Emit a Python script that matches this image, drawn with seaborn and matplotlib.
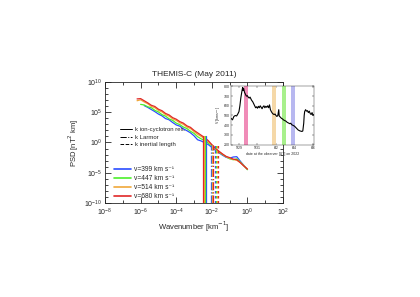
import numpy as np
import pandas as pd
import seaborn as sns
import matplotlib.pyplot as plt
from matplotlib.lines import Line2D
from matplotlib.ticker import LogLocator, NullFormatter, FixedLocator

sns.set_style("ticks")
plt.rcParams['font.family'] = ['Liberation Sans', 'DejaVu Sans']

# log10 wavenumber [km^-1]
log_k = [-6.2, -6.0, -5.8, -5.6, -5.4, -5.2, -5.0, -4.8, -4.6, -4.4, -4.2, -4.0,
         -3.8, -3.6, -3.4, -3.2, -3.0, -2.8, -2.6, -2.4, -2.2, -2.0, -1.8, -1.6,
         -1.4, -1.2, -1.0, -0.8, -0.6, -0.4, -0.2, 0.0]

# log10 PSD for each solar wind speed
psd_399 = [np.nan, np.nan, 6.1, 5.8, 5.45, 5.1, 4.7, 4.4, 3.95, 3.75, 3.3, 2.9,
           2.7, 2.25, 1.95, 1.6, 1.1, 0.45, 0.25, -0.05, -0.35, -0.8, -1.3, -1.7,
           -2.1, -2.45, -2.6, -2.4, -2.35, -3.1, -3.8, -4.45]
psd_447 = [np.nan, 6.3, 6.2, 5.9, 5.75, 5.3, 5.05, 4.6, 4.35, 3.9, 3.65, 3.2,
           2.95, 2.55, 2.3, 1.85, 1.5, 0.95, 0.6, 0.3, -0.1, -0.6, -1.15, -1.6,
           -2.0, -2.35, -2.7, -2.85, -2.7, -3.25, -3.85, -4.5]
psd_514 = [6.9, 7.05, 6.7, 6.4, 5.95, 5.75, 5.3, 5.05, 4.6, 4.35, 3.9, 3.65,
           3.25, 3.0, 2.55, 2.3, 1.8, 1.35, 1.0, 0.6, 0.1, -0.45, -1.05, -1.5,
           -1.95, -2.35, -2.6, -2.8, -2.95, -3.3, -3.85, -4.4]
psd_680 = [7.2, 7.25, 6.9, 6.55, 6.15, 5.95, 5.5, 5.25, 4.8, 4.55, 4.1, 3.85,
           3.45, 3.2, 2.75, 2.5, 2.0, 1.6, 1.2, 0.8, 0.3, -0.35, -0.95, -1.45,
           -1.9, -2.3, -2.5, -2.75, -2.85, -3.35, -3.9, -4.4]

speeds = ["v=399 km s⁻¹", "v=447 km s⁻¹", "v=514 km s⁻¹", "v=680 km s⁻¹"]
colors = ["#2a4dff", "#4cf02a", "#f0a83a", "#e02828"]

# characteristic scales, log10 k
k_cyclotron = [-2.33, -2.40, -2.44, -2.48]
k_larmor = [-2.05, -2.0, -1.97, -1.93]
k_inertial = [-1.8, -1.75, -1.7, -1.66]

# inset: solar wind speed, days since 5/28 00 UT
sw_day = [0.15, 0.3, 0.45, 0.6, 0.75, 0.9, 1.0, 1.1, 1.2, 1.3, 1.4, 1.45, 1.5, 1.6,
          1.7, 1.8, 1.9, 2.0, 2.1, 2.2, 2.35, 2.5, 2.6, 2.7, 2.8, 2.9, 3.0, 3.1, 3.2,
          3.3, 3.4, 3.5, 3.6, 3.7, 3.8, 3.9, 4.0, 4.1, 4.2, 4.3, 4.4, 4.5, 4.6, 4.7,
          4.8, 4.9, 5.0, 5.1, 5.2, 5.3, 5.35, 5.5, 5.6, 5.7, 5.8, 5.9, 6.0, 6.1, 6.2,
          6.3, 6.4, 6.5, 6.6, 6.7, 6.8, 6.9, 7.0, 7.1, 7.2, 7.3, 7.4, 7.5, 7.6, 7.7,
          7.8, 7.9, 8.0, 8.05, 8.1, 8.2, 8.3, 8.4, 8.5, 8.6, 8.7, 8.8, 8.9, 9.0, 9.1]
sw_speed = [470, 455, 490, 500, 495, 520, 540, 600, 680, 740, 790, 760, 780, 740,
            720, 700, 705, 690, 680, 690, 660, 640, 620, 600, 580, 590, 575, 595, 580,
            600, 585, 570, 590, 600, 580, 595, 585, 600, 580, 610, 560, 540, 525, 515,
            510, 515, 500, 490, 500, 560, 495, 480, 470, 465, 455, 450, 445, 440, 430,
            425, 420, 415, 420, 405, 400, 395, 390, 380, 370, 360, 350, 345, 340, 338,
            335, 340, 420, 500, 540, 560, 545, 550, 530, 545, 520, 510, 530, 500, 510]
bands = [(1.54, 2.01, "#f08cb8"), (4.6, 4.95, "#f5d8a8"),
         (5.65, 6.05, "#a8f08c"), (6.62, 7.05, "#b8b8f0")]

rows = []
for name, vals in zip(speeds, [psd_399, psd_447, psd_514, psd_680]):
    for lk, lp in zip(log_k, vals):
        if not np.isnan(lp):
            rows.append({"k": 10 ** lk, "psd": 10 ** lp, "speed": name})
df = pd.DataFrame(rows)

fig = plt.figure(figsize=(4.2, 2.97), dpi=100)
ax = fig.add_axes([0.25, 0.3165, 0.424, 0.4075])

sns.lineplot(data=df, x="k", y="psd", hue="speed", palette=colors, hue_order=speeds,
             linewidth=0.9, legend=False, ax=ax)
ax.set_xscale("log")
ax.set_yscale("log")
ax.set_xlim(1e-8, 1e2)
ax.set_ylim(1e-10, 1e10)

for c, kc, kl, ki in zip(colors, k_cyclotron, k_larmor, k_inertial):
    ax.plot([10 ** kc] * 2, [1e-10, 1e1], color=c, lw=0.9, ls="-")
    ax.plot([10 ** kl] * 2, [1e-10, 10 ** -0.4], color=c, lw=0.9, ls="-.")
    ax.plot([10 ** ki] * 2, [1e-10, 10 ** -0.4], color=c, lw=0.9, ls=(0, (2, 2)))

ax.set_xticks([1e-8, 1e-6, 1e-4, 1e-2, 1e0, 1e2])
ax.xaxis.set_minor_locator(FixedLocator([1e-7, 1e-5, 1e-3, 1e-1, 1e1]))
ax.xaxis.set_minor_formatter(NullFormatter())
ax.set_yticks([1e-10, 1e-5, 1e0, 1e5, 1e10])
ax.yaxis.set_minor_locator(LogLocator(base=10, subs=[1.0], numticks=30))
ax.yaxis.set_minor_formatter(NullFormatter())
ax.tick_params(which="both", direction="in", top=True, right=True, labelsize=5,
               width=0.6, pad=2)
ax.tick_params(axis="x", pad=3)
ax.tick_params(which="major", length=4)
ax.tick_params(which="minor", length=2)
for s in ax.spines.values():
    s.set_linewidth(0.6)

ax.set_title("THEMIS-C (May 2011)", fontsize=6, pad=4)
ax.set_xlabel("Wavenumber [km$^{-1}$]", fontsize=5.5, labelpad=1)
ax.set_ylabel("PSD [nT$^2$ km]", fontsize=5.5, labelpad=2)

style_handles = [Line2D([], [], color="black", lw=0.7, ls="-"),
                 Line2D([], [], color="black", lw=0.7, ls="-."),
                 Line2D([], [], color="black", lw=0.7, ls="--")]
leg1 = ax.legend(style_handles, ["k ion-cyclotron res.", "k Larmor", "k inertial length"],
                 loc="upper left", bbox_to_anchor=(0.07, 0.65), frameon=False,
                 fontsize=4.3, handlelength=2.0, handletextpad=0.4, labelspacing=0.35,
                 borderpad=0)
ax.add_artist(leg1)
speed_handles = [Line2D([], [], color=c, lw=1.2) for c in colors]
ax.legend(speed_handles, speeds, loc="upper left", bbox_to_anchor=(0.03, 0.33),
          frameon=False, fontsize=4.8, handlelength=2.6, handletextpad=0.4,
          labelspacing=0.3, borderpad=0)

# inset with solar wind speed
axi = fig.add_axes([231 / 420, 1 - 145 / 297, 83 / 420, 59.5 / 297])
for x0, x1, c in bands:
    axi.axvspan(x0, x1, color=c, lw=0)
sns.lineplot(x=sw_day, y=sw_speed, color="black", linewidth=0.8, ax=axi)
axi.set_xlim(0.14, 9.11)
axi.set_ylim(195, 810)
axi.set_xticks([1, 3, 5, 7, 9])
axi.set_xticklabels(["5/29", "5/31", "6/2", "6/4", "6/6"])
axi.set_yticks([200, 300, 400, 500, 600, 700, 800])
axi.tick_params(which="both", direction="in", top=True, right=True, labelsize=2.5,
                width=0.3, length=1.5, pad=1)
for s in axi.spines.values():
    s.set_linewidth(0.3)
axi.set_xlabel("date at the observer [UT] on 2022", fontsize=2.5, labelpad=1)
axi.set_ylabel("V [km s$^{-1}$]", fontsize=2.5, labelpad=0.5)

fig.savefig("out.png", dpi=100)
